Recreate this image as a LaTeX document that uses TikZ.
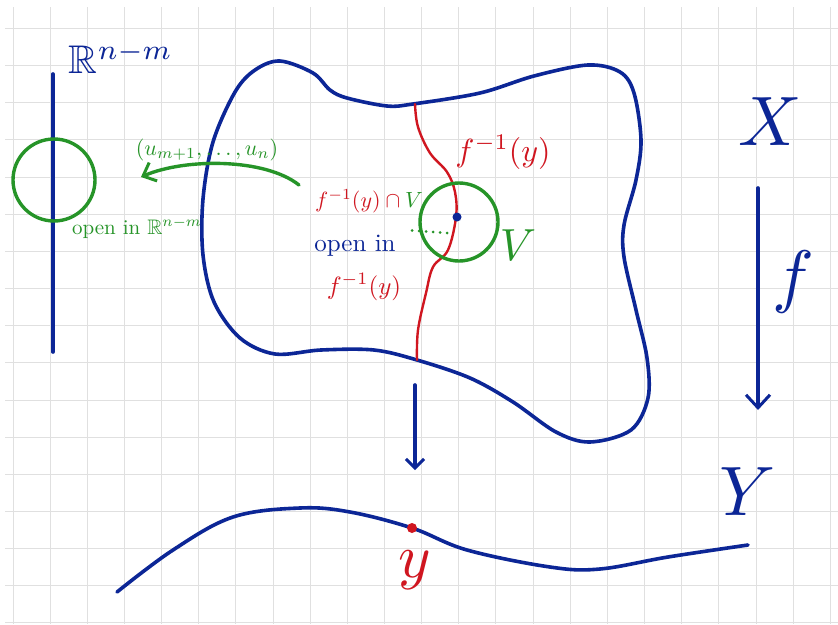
\documentclass[tikz,border=0pt]{standalone}
\usepackage{amssymb}
\usetikzlibrary{arrows.meta}
\definecolor{inkblue}{RGB}{12,38,150}
\definecolor{inkred}{RGB}{208,22,32}
\definecolor{inkgreen}{RGB}{38,148,40}
\tikzset{
  gridline/.style={draw=black!12,line width=1pt},
  bluestroke/.style={draw=inkblue,line width=3.6pt,line cap=round,line join=round},
  redstroke/.style={draw=inkred,line width=2.4pt,line cap=round},
  greenstroke/.style={draw=inkgreen,line width=3.4pt,line cap=round},
  barb/.style={-{Straight Barb[length=11pt,width=20pt,line width=3pt]}},
  lbl/.style={inner sep=0pt,scale=#1,transform shape},
}
\begin{document}
\begin{tikzpicture}[x=1pt,y=-1pt]
\useasboundingbox (0,0) rectangle (838,624);
\fill[white] (0,0) rectangle (838,624);
% grid
\foreach \k in {0,...,16} \draw[gridline] (5,28.5+37.15*\k) -- (838,28.5+37.15*\k);
\foreach \k in {0,...,22} \draw[gridline] (13+37.15*\k,7) -- (13+37.15*\k,624);

% left axis R^{n-m}
\coordinate (axtop) at (53,74);
\coordinate (axbot) at (53,352);
\draw[bluestroke] (axtop) -- (axbot);
\node[lbl=4,text=inkblue] (Rnm) at (121,58) {$\mathbb{R}^{n-m}$};
\node[draw=inkgreen,line width=3.4pt,circle,minimum size=82pt,inner sep=0pt] (Uleft) at (54,180) {};
\node[lbl=2.1,text=inkgreen] (openR) at (137,228) {open in $\mathbb{R}^{n-m}$};

% blob X
\draw[bluestroke] plot[smooth cycle,tension=0.55] coordinates {
(280,61) (313,73) (330,90) (347,98) (387,106) (413,104) (480,93) (534,76)
(588,65) (620,72) (634,93) (641,140) (636,180) (624,225) (624,257) (636,310)
(647,358) (648,398) (631,430) (590,442) (556,432) (513,402) (470,378) (417,360)
(374,350) (321,350) (275,354) (240,338) (214,302) (203,255) (203,199) (213,142)
(235,92) (255,70)};

% fibre f^{-1}(y)
\draw[redstroke] plot[smooth,tension=0.6] coordinates {
(415,104) (418,127) (430,153) (447,172) (455,192) (456,217) (448,250) (433,267)
(426,293) (418,330) (417,360)};

% neighbourhood V
\node[draw=inkgreen,line width=3.4pt,circle,minimum size=78pt,inner sep=0pt] (V) at (459,222) {};
\node[circle,fill=inkblue,inner sep=0pt,minimum size=9pt] (pt) at (457,217) {};
\coordinate (dotend) at (406,230);
\draw[draw=inkgreen,line width=3pt,line cap=round,dash pattern=on 0pt off 7pt] (447,233) -- (dotend);

% green arrow
\coordinate (garrs) at (299,185);
\coordinate (garre) at (141,177);
\draw[greenstroke,barb] (garrs) .. controls (265,158) and (185,158) .. (garre);
\node[lbl=2.2,text=inkgreen] (coords) at (207,150) {$(u_{m+1},\ldots,u_n)$};

% labels in the blob
\node[lbl=3.2,text=inkred] (finvtop) at (503,152) {$f^{-1}(y)$};
\node[lbl=2.2,text=inkred] (finvcap) at (369,201) {$f^{-1}(y)\cap\textcolor{inkgreen}{V}$};
\node[lbl=2.5,text=inkblue] (openin) at (355,246) {open in};
\node[lbl=2.5,text=inkred] (finvlow) at (364,287) {$f^{-1}(y)$};
\node[lbl=4.5,text=inkgreen] (Vlbl) at (518,245) {$V$};

% down arrow
\coordinate (dns) at (415,385);
\coordinate (dne) at (415,470);
\draw[bluestroke,-{Straight Barb[length=9pt,width=18pt,line width=3pt]}] (dns) -- (dne);

% Y curve
\draw[bluestroke] plot[smooth,tension=0.6] coordinates {
(117,592) (173,550) (233,517) (300,508) (350,512) (412,528) (467,550) (550,567)
(600,569) (668,557) (748,545)};
\node[circle,fill=inkred,inner sep=0pt,minimum size=10pt] (ydot) at (412,528) {};
\node[lbl=6.2,text=inkred] (ylbl) at (415,570) {$y$};

% right side X --f--> Y
\node[lbl=7,text=inkblue] (X) at (770,122) {$X$};
\coordinate (fs) at (758,188);
\coordinate (fe) at (758,410);
\draw[bluestroke,-{Straight Barb[length=13pt,width=24pt,line width=3pt]}] (fs) -- (fe);
\node[lbl=7,text=inkblue] (flbl) at (793,282) {$f$};
\node[lbl=7,text=inkblue] (Y) at (748,492) {$Y$};
\end{tikzpicture}
\end{document}
